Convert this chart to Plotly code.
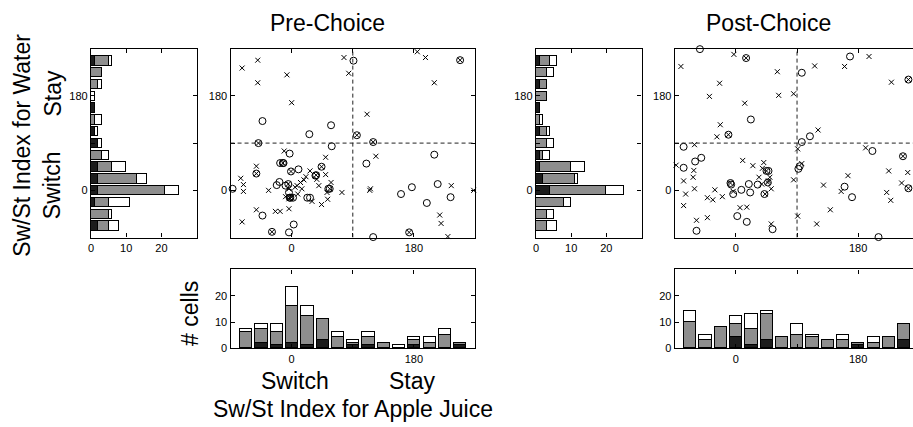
import plotly.graph_objects as go

W, H = 913, 427

# ---------------- data ----------------
bins = [-67.5, -45, -22.5, 0, 22.5, 45, 67.5, 90, 112.5, 135, 157.5, 180, 202.5, 225, 247.5]

# Pre-choice, water index histogram (horizontal)
pre_water_black = [2, 0, 1, 2, 2, 2, 0, 2, 1, 0, 1, 0, 0, 0, 1]
pre_water_gray = [3, 5, 4, 19, 11, 4, 3, 0, 0, 1, 0, 0, 2, 3, 4]
pre_water_white = [3, 1, 6, 4, 3, 4, 2, 1, 1, 2, 0, 1, 1, 0, 1]
# Pre-choice, apple juice index histogram
pre_juice_black = [0, 2, 1, 2, 1, 3, 0, 1, 1, 0, 0, 1, 0, 0, 1]
pre_juice_gray = [6, 5, 5, 14, 11, 8, 4, 1, 3, 2, 0, 2, 2, 5, 1]
pre_juice_white = [1, 2, 3, 7, 4, 0, 2, 1, 2, 0, 1, 1, 2, 2, 0]
# Post-choice
post_water_black = [0, 0, 0, 4, 2, 1, 1, 0, 1, 0, 1, 0, 1, 0, 1]
post_water_gray = [3, 3, 8, 16, 9, 9, 1, 3, 2, 1, 0, 3, 2, 3, 3]
post_water_white = [3, 2, 2, 5, 1, 4, 2, 2, 1, 1, 0, 0, 0, 2, 2]
post_juice_black = [0, 0, 0, 4, 1, 3, 0, 0, 0, 0, 0, 1, 0, 0, 3]
post_juice_gray = [10, 3, 8, 5, 6, 10, 4, 5, 4, 3, 3, 1, 2, 4, 6]
post_juice_white = [4, 2, 0, 3, 6, 1, 0, 4, 1, 0, 2, 0, 2, 0, 0]

# Scatter: (juice index, water index)
pre_x_cross = [-50, -73, -7, -50, 0, 77, 84, -11, -52, 50, -75, -71, -71, -34, 21, 27, 18, 13, 5, -4, 9, 0, -9, -4,
               37, 50, 58, 40, 52, 74, 53, 44, 30, -4, -52, -24, -17, -73, 15, 8, 185, 197, 210, 111, 124, 115, 116,
               235, 268, 218, 220, 230]
pre_y_cross = [248, 233, 220, 205, 167, 253, 223, 75, 46, 63, 23, 11, -2, 0, 26, 37, 20, 15, 6, 3, -7, -13, -12, -16,
               21, 30, 15, 9, -4, -4, -17, -27, -21, -35, -37, -40, -40, -60, 3, 9, 264, 253, 205, 145, 65, 0, 3,
               9, 0, -47, -63, -88]
pre_x_circle = [91, -43, 58, 26, 59, -3, 110, 210, 215, 177, 161, 199, 234, 120, -87, -43, 3, -4, -17, -12, 10, -22,
                -18, -9, -4, -2, 2, 23, 27, 35, 54]
pre_y_circle = [247, 132, 124, 107, 84, 70, 51, 68, 12, 6, -7, -24, -13, -89, 3, -48, -65, -80, 52, 52, 40, 10,
                16, 9, -4, -14, -14, -14, -14, 28, 3]
pre_x_both = [248, 96, 120, -49, -52, -13, -1, 44, -5, 56, 36, -29, 173, -3]
pre_y_both = [248, 105, 92, 90, 32, 52, 36, 45, 12, 3, 29, -79, -80, -14]

post_x_cross = [-81, -3, -24, -39, 13, 61, 63, 85, -23, -28, -61, -88, -62, -77, -63, -61, -74, -77, -42, -34, -31,
                -20, 10, 25, 41, 39, 34, 38, 50, 48, 52, 43, 6, 16, 52, -58, -42, 91, 85, 91, 116, 160, 196, 229,
                121, 97, 191, 165, 129, 155, 225, 222, 228, 253, 244, 139, 119, -4]
post_y_cross = [236, 259, 204, 179, 166, 226, 181, 184, 125, 102, 87, 48, 38, 18, 25, 3, -7, -29, -14, -18, 1,
                -12, 57, 47, 53, 42, 25, 12, 25, 18, 3, -7, -33, -32, -64, -57, -52, 79, 20, -49, 237, 236, 255, 206,
                115, 51, 81, 28, 10, -2, 37, -4, -19, 34, 14, -37, -64, -2]
post_x_circle = [-53, -77, -51, -60, -77, 22, 2, 16, 54, -58, -7, -4, 8, 19, 21, 32, 42, 48, 168, 97, 109, 97, 201,
                 92, 94, 160, 171, 210]
post_y_circle = [269, 83, 62, 55, 43, 135, -49, -60, -74, -77, 11, -7, 1, 12, -4, 11, -7, 37, 255, 224, 103, 92, 75,
                 41, 46, 7, -13, -89]
post_x_both = [15, -11, -8, 45, 47, 254, 246, 254]
post_y_both = [252, 106, 14, 37, 15, 211, 65, 4]

# ---------------- layout helpers ----------------
FONT = "Liberation Sans, Arial, Helvetica, sans-serif"


def dx(p0, p1):
    return [p0 / W, min(p1 / W, 1.0)]


def dy(p0, p1):
    return [1 - p1 / H, 1 - p0 / H]


def axis(domain, rng, tickvals, ticktext, anchor, mirror="ticks"):
    return dict(domain=domain, range=rng, tickvals=tickvals, ticktext=ticktext, anchor=anchor,
                showline=True, linecolor="black", linewidth=1.3, mirror=mirror,
                ticks="inside", ticklen=4, tickwidth=1, tickcolor="black",
                showgrid=False, zeroline=False, fixedrange=True,
                tickfont=dict(family=FONT, size=11, color="#000000"))


TOP, BOT = 49.3, 241.0
HTOP, HBOT = 273.3, 353.3
PX_PER_DEG = 245.3 / 360.0
POST_LEFT = 674.0
post_right_deg = -90 + (W - POST_LEFT) / PX_PER_DEG

deg_ticks = [0, 90, 180]
deg_text = ["0", "", "180"]
cnt_ticks = [0, 10, 20]
cnt_text = ["0", "10", "20"]

fig = go.Figure()

BLACK, GRAY, WHITE = "#1c1c1c", "#8e8e8e", "#ffffff"


def nz(arr):
    return [v if v else None for v in arr]


def add_stack(vals, colors, xa, ya, horizontal):
    for v, c in zip(vals, colors):
        if horizontal:
            fig.add_trace(go.Bar(x=nz(v), y=bins, orientation="h", width=18, xaxis=xa, yaxis=ya,
                                 marker=dict(color=c, line=dict(color="black", width=1)),
                                 showlegend=False, hoverinfo="skip"))
        else:
            fig.add_trace(go.Bar(x=bins, y=nz(v), width=18, xaxis=xa, yaxis=ya,
                                 marker=dict(color=c, line=dict(color="black", width=1)),
                                 showlegend=False, hoverinfo="skip"))


cols = [BLACK, GRAY, WHITE]
add_stack([pre_water_black, pre_water_gray, pre_water_white], cols, "x", "y", True)
add_stack([pre_juice_black, pre_juice_gray, pre_juice_white], cols, "x3", "y3", False)
add_stack([post_water_black, post_water_gray, post_water_white], cols, "x4", "y4", True)
add_stack([post_juice_black, post_juice_gray, post_juice_white], cols, "x6", "y6", False)


def add_pts(xs, ys, sym, size, xa, ya):
    fig.add_trace(go.Scatter(x=xs, y=ys, mode="markers", xaxis=xa, yaxis=ya, cliponaxis=False,
                             marker=dict(symbol=sym, size=size, color="black",
                                         line=dict(color="black", width=1)),
                             showlegend=False, hoverinfo="skip"))


add_pts(pre_x_cross, pre_y_cross, "x-thin-open", 5, "x2", "y2")
add_pts(pre_x_circle, pre_y_circle, "circle-open", 7, "x2", "y2")
add_pts(pre_x_both, pre_y_both, "circle-x-open", 7, "x2", "y2")
add_pts(post_x_cross, post_y_cross, "x-thin-open", 5, "x5", "y5")
add_pts(post_x_circle, post_y_circle, "circle-open", 7, "x5", "y5")
add_pts(post_x_both, post_y_both, "circle-x-open", 7, "x5", "y5")

shapes = []
for xa, ya, xr in [("x2", "y2", 270), ("x5", "y5", post_right_deg)]:
    shapes.append(dict(type="line", xref=xa, yref=ya, x0=90, x1=90, y0=-90, y1=270,
                       line=dict(color="#222222", width=1, dash="4px,3px")))
    shapes.append(dict(type="line", xref=xa, yref=ya, x0=-90, x1=xr, y0=90, y1=90,
                       line=dict(color="#222222", width=1, dash="4px,3px")))


def ann(text, px, py, size=23, angle=0):
    return dict(text=text, x=px / W, y=1 - py / H, xref="paper", yref="paper", showarrow=False,
                xanchor="center", yanchor="middle", textangle=angle,
                font=dict(family=FONT, size=size, color="black"))


annotations = [
    ann("Pre-Choice", 326, 23, 23),
    ann("Post-Choice", 768, 23, 23),
    ann("Sw/St Index for Water", 19, 147, 23, -90),
    ann("Stay", 50, 94, 23, -90),
    ann("Switch", 50, 188, 23, -90),
    ann("# cells", 187, 318, 23, -90),
    ann("Switch", 293, 386, 23),
    ann("Stay", 411, 386, 23),
    ann("Sw/St Index for Apple Juice", 351, 415, 23),
]

fig.update_layout(
    width=W, height=H, margin=dict(l=0, r=0, t=0, b=0),
    paper_bgcolor="white", plot_bgcolor="white", barmode="stack", bargap=0,
    showlegend=False, shapes=shapes, annotations=annotations,
    xaxis=axis(dx(88.3, 194.3), [0, 30], cnt_ticks, cnt_text, "y"),
    yaxis=axis(dy(TOP, BOT), [-90, 270], deg_ticks, deg_text, "x"),
    xaxis2=axis(dx(228.3, 473.6), [-90, 270], deg_ticks, deg_text, "y2"),
    yaxis2=axis(dy(TOP, BOT), [-90, 270], deg_ticks, deg_text, "x2"),
    xaxis3=axis(dx(228.3, 473.6), [-90, 270], deg_ticks, deg_text, "y3"),
    yaxis3=axis(dy(HTOP, HBOT), [0, 30], cnt_ticks, cnt_text, "x3"),
    xaxis4=axis(dx(534.7, 640.7), [0, 30], cnt_ticks, cnt_text, "y4"),
    yaxis4=axis(dy(TOP, BOT), [-90, 270], deg_ticks, deg_text, "x4"),
    xaxis5=axis(dx(POST_LEFT, W), [-90, post_right_deg], deg_ticks, deg_text, "y5"),
    yaxis5=axis(dy(TOP, BOT), [-90, 270], deg_ticks, deg_text, "x5", mirror=False),
    xaxis6=axis(dx(POST_LEFT, W), [-90, post_right_deg], deg_ticks, deg_text, "y6"),
    yaxis6=axis(dy(HTOP, HBOT), [0, 30], cnt_ticks, cnt_text, "x6", mirror=False),
)

fig.write_html("out.html")
